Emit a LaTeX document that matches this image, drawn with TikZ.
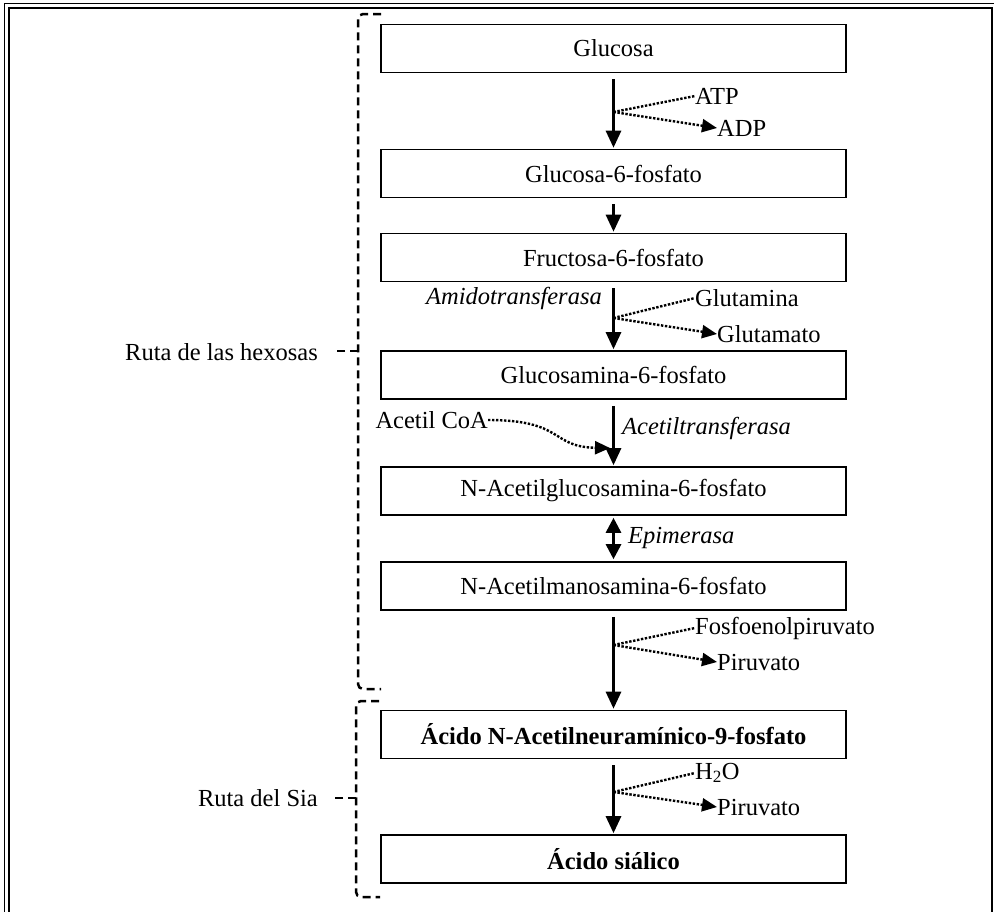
\documentclass[tikz,border=0pt]{standalone}
\usepackage{fontspec}
\setmainfont{Liberation Serif}
\usetikzlibrary{arrows.meta,calc}

\begin{document}
\begin{tikzpicture}[x=1pt,y=-1pt,
  every node/.style={font=\fontsize{24.5}{28}\selectfont, inner sep=0pt},
  stepbox/.style={draw, line width=1.6pt, minimum width=465pt, minimum height=48pt},
  mainarrow/.style={line width=2.8pt, -{Triangle[width=15pt,length=17pt]}, shorten <=6pt, shorten >=1pt},
  sideline/.style={line width=2.4pt, dash pattern=on 2.4pt off 1.6pt},
  sidearrow/.style={sideline, -{Triangle[width=13pt,length=15pt]}},
  enzyme/.style={font=\fontsize{24.5}{28}\selectfont\itshape},
  bracket/.style={line width=2.5pt, dash pattern=on 8pt off 5pt, rounded corners=5pt},
]
\useasboundingbox (0,0) rectangle (994,911);

% double frame
\begin{scope}
  \clip (0,0) rectangle (994,911);
  \draw[line width=1.2pt] (4.5,3.5) rectangle (1010,930);
  \draw[line width=2pt] (9,7.5) rectangle (992,930);
\end{scope}

% pathway steps
\node[stepbox] (glc)    at (613.5,48.5) {Glucosa};
\node[stepbox] (g6p)    at (613.5,173.5) {Glucosa-6-fosfato};
\node[stepbox] (f6p)    at (613.5,257.5) {Fructosa-6-fosfato};
\node[stepbox] (gn6p)   at (613.5,375) {Glucosamina-6-fosfato};
\node[stepbox] (nacglc) at (613.5,491) {N-Acetilglucosamina-6-fosfato};
\node[stepbox] (nacman) at (613.5,586) {N-Acetilmanosamina-6-fosfato};
\node[stepbox] (neu9p)  at (613.5,734.5) {\bfseries Ácido N-Acetilneuramínico-9-fosfato};
\node[stepbox] (sia)    at (613.5,859) {\bfseries Ácido siálico};

% main arrows
\draw[mainarrow] (glc) -- (g6p);
\draw[mainarrow] (g6p) -- (f6p);
\draw[mainarrow] (f6p) -- (gn6p);
\draw[mainarrow] (gn6p) -- (nacglc);
\draw[line width=2.8pt, {Triangle[width=15pt,length=15pt]}-{Triangle[width=15pt,length=15pt]}, shorten <=2pt, shorten >=2pt] (nacglc) -- (nacman);
\draw[mainarrow] (nacman) -- (neu9p);
\draw[mainarrow] (neu9p) -- (sia);

% ATP / ADP
\coordinate (b1) at (613.5,112);
\node[anchor=west] (atp) at (695,96) {ATP};
\node[anchor=west] (adp) at (717,128) {ADP};
\draw[sideline] (b1) -- (atp.west);
\draw[sidearrow] (b1) -- (adp.west);

% Glutamina / Glutamato
\coordinate (b2) at (613.5,318);
\node[anchor=west] (gln) at (695,298) {Glutamina};
\node[anchor=west] (glu) at (717,334) {Glutamato};
\draw[sideline] (b2) -- (gln.west);
\draw[sidearrow] (b2) -- (glu.west);
\node[enzyme, anchor=east] (amt) at (602,298) {Amidotransferasa};

% Acetil CoA
\node[anchor=east] (acoa) at (488,420) {Acetil CoA};
\coordinate (acin) at (610,448);
\draw[sidearrow] (acoa.east) .. controls (565,420) and (550,447) .. (acin);
\node[enzyme, anchor=west] (act) at (622,428) {Acetiltransferasa};

% Epimerasa
\node[enzyme, anchor=west] (epi) at (628,538) {Epimerasa};

% Fosfoenolpiruvato / Piruvato
\coordinate (b3) at (613.5,645);
\node[anchor=west] (pep) at (695,628) {Fosfoenolpiruvato};
\node[anchor=west] (pyr1) at (717,662) {Piruvato};
\draw[sideline] (b3) -- (pep.west);
\draw[sidearrow] (b3) -- (pyr1.west);

% H2O / Piruvato
\coordinate (b4) at (613.5,792);
\node[anchor=west] (h2o) at (695,773) {H\textsubscript{2}O};
\node[anchor=west] (pyr2) at (717,807) {Piruvato};
\draw[sideline] (b4) -- (h2o.west);
\draw[sidearrow] (b4) -- (pyr2.west);

% grouping brackets
\draw[bracket] (381,14) -- (358,14) -- (358,689) -- (381,689);
\draw[bracket] (358,351) -- (337,351);
\node[anchor=east] (hex) at (318,352) {Ruta de las hexosas};

\draw[bracket] (379,701) -- (356,701) -- (356,897) -- (380,897);
\draw[bracket] (356,798) -- (335,798);
\node[anchor=east] (rsia) at (318,798) {Ruta del Sia};
\end{tikzpicture}
\end{document}
